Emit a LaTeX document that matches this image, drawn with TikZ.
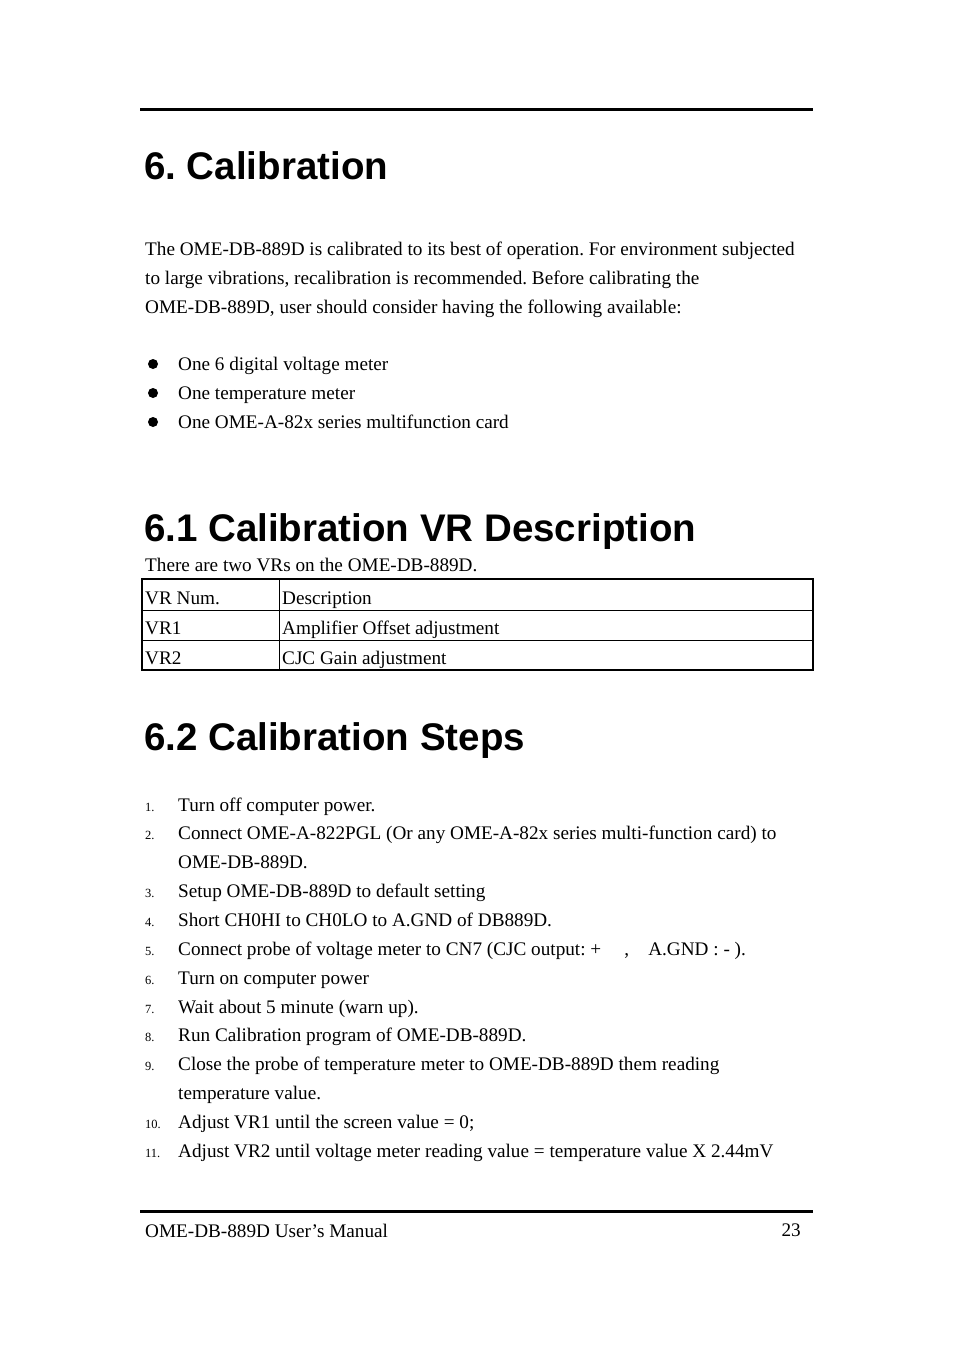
\documentclass[tikz,border=0pt]{standalone}
\usepackage{fontspec}
\setmainfont{Liberation Serif}
\newfontfamily\headfont{Liberation Sans}
\frenchspacing
\begin{document}
\begin{tikzpicture}[x=1pt,y=-1pt,
  body/.style={anchor=base west,inner sep=0,font=\fontsize{19.2}{22}\selectfont},
  head/.style={anchor=base west,inner sep=0,font=\headfont\bfseries\fontsize{38.5}{44}\selectfont},
  num/.style={anchor=base west,inner sep=0,font=\fontsize{12.5}{14}\selectfont}]
\useasboundingbox[fill=white] (0,0) rectangle (954,1351);
\draw[line width=3pt] (140,110) -- (813,110);
\node[head] (h1) at (144,179) {6. Calibration};
\node[body] (p1) at (145,255) {The OME-DB-889D is calibrated to its best of operation. For environment subjected};
\node[body] (p2) at (145,284) {to large vibrations, recalibration is recommended. Before calibrating the};
\node[body] (p3) at (145,313) {OME-DB-889D, user should consider having the following available:};
\foreach \y/\t [count=\i] in {370/One 6 digital voltage meter,399/One temperature meter,428/One OME-A-82x series multifunction card}{
  \fill (153,\y-6) circle (5);
  \node[body] (b\i) at (178,\y) {\t};}
\node[head] (h2) at (144,541) {6.1 Calibration VR Description};
\node[body] (p4) at (145,571) {There are two VRs on the OME-DB-889D.};
\draw[line width=1pt] (142,610) -- (813,610) (142,640) -- (813,640) (279,579) -- (279,670);
\draw[line width=2pt] (142,579) rectangle (813,670);
\node[body] (t1) at (145,604) {VR Num.};
\node[body] (t2) at (282,604) {Description};
\node[body] (t3) at (145,634) {VR1};
\node[body] (t4) at (282,634) {Amplifier Offset adjustment};
\node[body] (t5) at (145,664) {VR2};
\node[body] (t6) at (282,664) {CJC Gain adjustment};
\node[head] (h3) at (144,750) {6.2 Calibration Steps};
\foreach \y/\n/\t [count=\i] in {
 811/1./Turn off computer power.,
 839/2./Connect OME-A-822PGL (Or any OME-A-82x series multi-function card) to,
 897/3./Setup OME-DB-889D to default setting,
 926/4./Short CH0HI to CH0LO to A.GND of DB889D.,
 955/5./{Connect probe of voltage meter to CN7 (CJC output: +\hspace{1.2em},\hspace{1em}A.GND : - ).},
 984/6./Turn on computer power,
 1013/7./Wait about 5 minute (warn up).,
 1041/8./Run Calibration program of OME-DB-889D.,
 1070/9./Close the probe of temperature meter to OME-DB-889D them reading,
 1128/10./Adjust VR1 until the screen value = 0;,
 1157/11./Adjust VR2 until voltage meter reading value = temperature value X 2.44mV}{
  \node[num] (n\i) at (145,\y) {\n};
  \node[body] (s\i) at (178,\y) {\t};}
\node[body] (c2) at (178,868) {OME-DB-889D.};
\node[body] (c9) at (178,1099) {temperature value.};
\draw[line width=3pt] (140,1211) -- (813,1211);
\node[body] (f1) at (145,1237) {OME-DB-889D User’s Manual};
\node[body,anchor=base east] (f2) at (801,1236) {23};
\end{tikzpicture}
\end{document}
